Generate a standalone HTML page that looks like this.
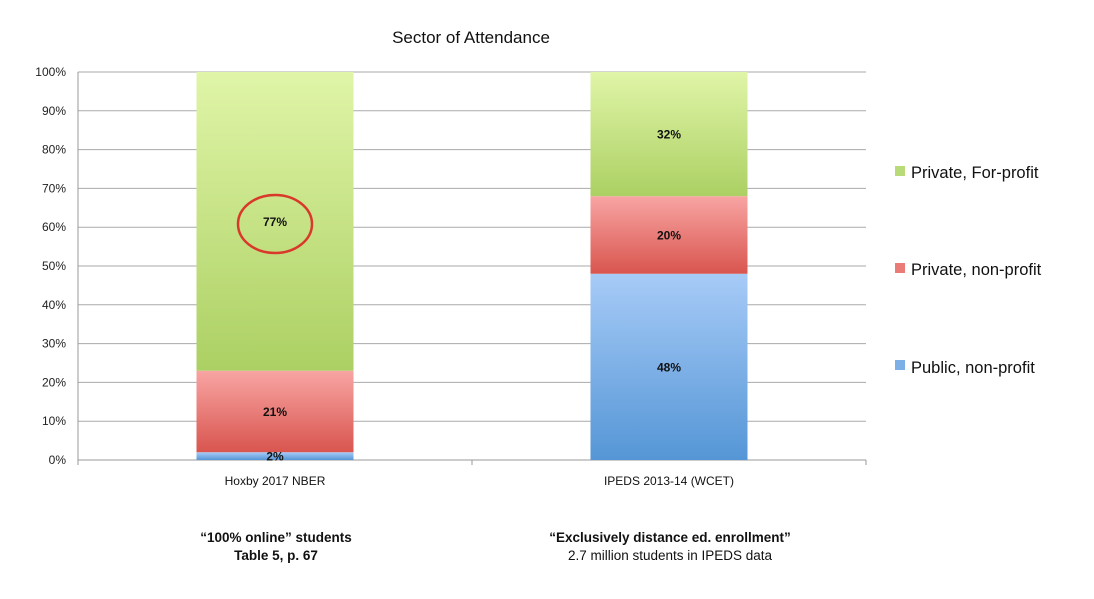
<!DOCTYPE html>
<html><head><meta charset="utf-8"><style>
html,body{margin:0;padding:0;background:#fff;}
svg{display:block;font-family:"Liberation Sans",sans-serif;}
</style></head><body>
<svg id="chart" width="1094" height="599" viewBox="0 0 1094 599">
<defs>
<linearGradient id="gGreen" x1="0" y1="0" x2="0" y2="1"><stop offset="0" stop-color="#e0f5a8"/><stop offset="1" stop-color="#acd063"/></linearGradient>
<linearGradient id="gRed" x1="0" y1="0" x2="0" y2="1"><stop offset="0" stop-color="#f8a5a3"/><stop offset="1" stop-color="#d9554f"/></linearGradient>
<linearGradient id="gBlue" x1="0" y1="0" x2="0" y2="1"><stop offset="0" stop-color="#a7cbf7"/><stop offset="1" stop-color="#5596d6"/></linearGradient>
</defs>
<text x="471" y="43" font-size="17" text-anchor="middle" fill="#111">Sector of Attendance</text>
<g id="grid"></g><g id="bars"></g><g id="labels"></g>
<ellipse cx="275" cy="224" rx="37" ry="29" fill="none" stroke="#d9392a" stroke-width="2.5"/>
<g>
<rect x="895" y="166" width="10" height="10" fill="#b8da78"/>
<text x="911" y="178" font-size="16.5" fill="#111">Private, For-profit</text>
<rect x="895" y="263" width="10" height="10" fill="#ea7b77"/>
<text x="911" y="275" font-size="16.5" fill="#111">Private, non-profit</text>
<rect x="895" y="360" width="10" height="10" fill="#7eb0e8"/>
<text x="911" y="373" font-size="16.5" fill="#111">Public, non-profit</text>
</g>
<g font-size="13.5" text-anchor="middle" fill="#111">
<text x="276" y="542" font-weight="bold">“100% online” students</text>
<text x="276" y="560" font-weight="bold">Table 5, p. 67</text>
<text x="670" y="542" font-weight="bold">“Exclusively distance ed. enrollment”</text>
<text x="670" y="560">2.7 million students in IPEDS data</text>
</g>
</svg>
<script>
const categories = ["Hoxby 2017 NBER", "IPEDS 2013-14 (WCET)"];
const publicVals = [2, 48];
const nonprofitVals = [21, 20];
const forprofitVals = [77, 32];
const yTicks = [0,10,20,30,40,50,60,70,80,90,100];

const NS="http://www.w3.org/2000/svg";
const x0=78,x1=866,yTop=72,yBot=460;
const y=v=>yBot-(v/100)*(yBot-yTop);
const band=(x1-x0)/categories.length;
const bw=157;
const cx=i=>x0+band*(i+0.5);
function mk(t,a,p){const e=document.createElementNS(NS,t);for(const k in a)e.setAttribute(k,a[k]);p.appendChild(e);return e;}
const grid=document.getElementById('grid'),bars=document.getElementById('bars'),labels=document.getElementById('labels');
yTicks.forEach(t=>{
  const l=mk('line',{x1:x0,x2:x1,y1:y(t),y2:y(t),stroke:t===0?'#999':'#aaa','stroke-width':1},grid);
  
  
  const tx=mk('text',{x:66,y:y(t)+4,'font-size':12,'text-anchor':'end',fill:'#222'},grid);
  tx.textContent=t+'%';
  
  
});
const ax=mk('line',{x1:x0,x2:x0,y1:yTop,y2:yBot+4,stroke:'#999'},grid);


[0,1,2].forEach(i=>{const tk=mk('line',{x1:x0+band*i,x2:x0+band*i,y1:yBot,y2:yBot+5,stroke:'#999'},grid);

});
const series=[[publicVals,'url(#gBlue)','public'],[nonprofitVals,'url(#gRed)','nonprofit'],[forprofitVals,'url(#gGreen)','forprofit']];
categories.forEach((c,i)=>{
  let base=0;
  series.forEach(([vals,fill,nm])=>{
    const v=vals[i];
    const r=mk('rect',{x:cx(i)-bw/2,y:y(base+v),width:bw,height:y(base)-y(base+v),fill:fill},bars);
    
    
    const t=mk('text',{x:cx(i),y:(y(base)+y(base+v))/2+4.5,'font-size':12,'font-weight':'bold','text-anchor':'middle',fill:'#111'},labels);
    t.textContent=v+'%';
    
    
    base+=v;
  });
  const cl=mk('text',{x:cx(i),y:485,'font-size':12,'text-anchor':'middle',fill:'#111'},labels);
  cl.textContent=c;
  
  
});
</script>
</body></html>
